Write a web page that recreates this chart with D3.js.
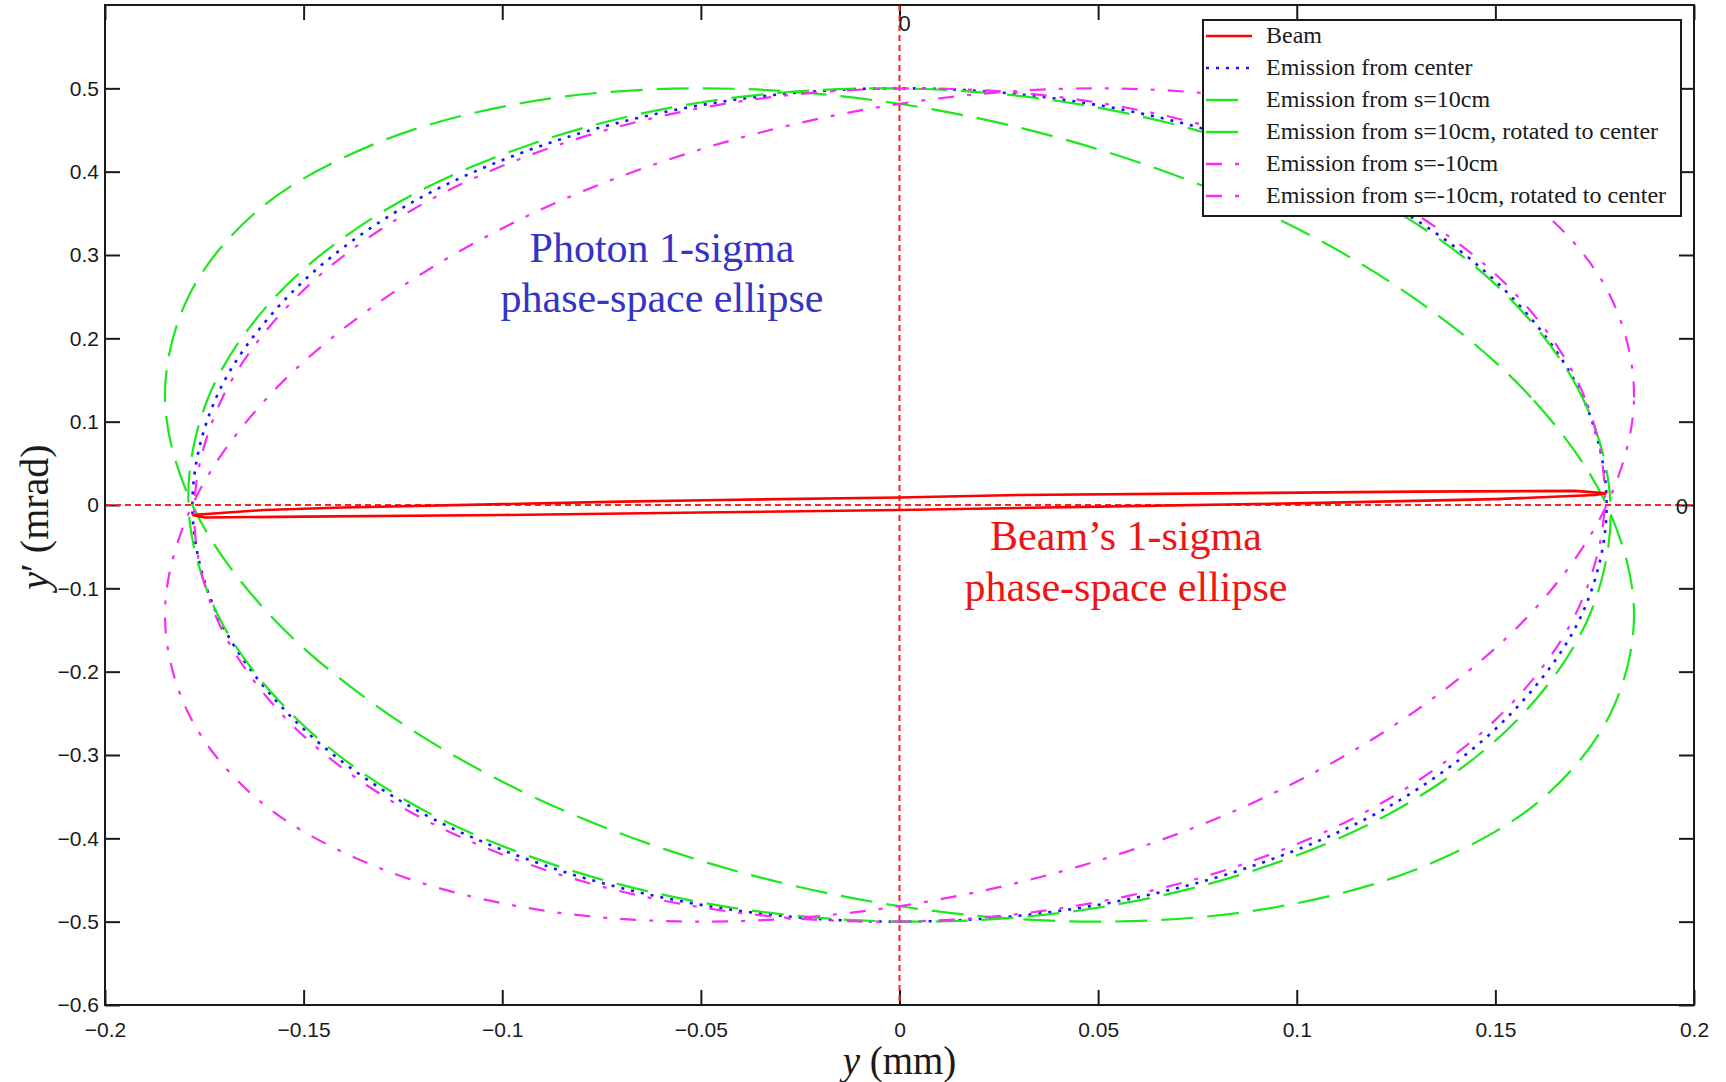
<!DOCTYPE html>
<html>
<head>
<meta charset="utf-8">
<script src="https://cdn.jsdelivr.net/npm/d3@7"></script>
<style>
  body { margin: 0; background: #fff; }
  svg { display: block; }
</style>
</head>
<body>
<div id="chart"></div>
<script>
// axis ticks
const xTicks = [-0.2, -0.15, -0.1, -0.05, 0, 0.05, 0.1, 0.15, 0.2];
const yTicks = [0.5, 0.4, 0.3, 0.2, 0.1, 0, -0.1, -0.2, -0.3, -0.4, -0.5, -0.6];

// series: [y (mm), y' (mrad)]
const beam = [
  [-0.178, -0.012], [-0.16, -0.006], [-0.14, -0.003], [-0.1, 0.001], [-0.07, 0.004],
  [-0.045, 0.006], [0, 0.009], [0.03, 0.012], [0.08, 0.014], [0.13, 0.016], [0.17, 0.017],
  [0.178, 0.014], [0.175, 0.012], [0.15, 0.007], [0.1, 0.002], [0.05, -0.002], [0, -0.006],
  [-0.05, -0.009], [-0.1, -0.012], [-0.15, -0.014], [-0.175, -0.015]
];
const emitCenter = [
  [0.178, 0], [0.172, 0.129], [0.154, 0.25], [0.126, 0.354], [0.089, 0.433], [0.046, 0.483],
  [0, 0.5], [-0.046, 0.483], [-0.089, 0.433], [-0.126, 0.354], [-0.154, 0.25], [-0.172, 0.129],
  [-0.178, 0], [-0.172, -0.129], [-0.154, -0.25], [-0.126, -0.354], [-0.089, -0.433], [-0.046, -0.483],
  [0, -0.5], [0.046, -0.483], [0.089, -0.433], [0.126, -0.354], [0.154, -0.25], [0.172, -0.129]
];
const emitS10 = [
  [0.178, 0], [0.159, 0.129], [0.129, 0.25], [0.0905, 0.354], [0.0457, 0.433], [-0.0023, 0.483],
  [-0.05, 0.5], [-0.0943, 0.483], [-0.1323, 0.433], [-0.1614, 0.354], [-0.179, 0.25], [-0.1849, 0.129],
  [-0.178, 0], [-0.1591, -0.129], [-0.129, -0.25], [-0.0905, -0.354], [-0.0457, -0.433], [0.0023, -0.483],
  [0.05, -0.5], [0.0943, -0.483], [0.1323, -0.433], [0.1614, -0.354], [0.179, -0.25], [0.1849, -0.129]
];
const emitS10Rot = [
  [0.179, 0], [0.1719, 0.129], [0.1532, 0.25], [0.1244, 0.354], [0.0862, 0.433], [0.0424, 0.483],
  [-0.004, 0.5], [-0.0502, 0.483], [-0.0927, 0.433], [-0.1294, 0.354], [-0.1571, 0.25], [-0.1740, 0.129],
  [-0.179, 0], [-0.1719, -0.129], [-0.1532, -0.25], [-0.1244, -0.354], [-0.0862, -0.433], [-0.0424, -0.483],
  [0.004, -0.5], [0.0502, -0.483], [0.0927, -0.433], [0.1294, -0.354], [0.1571, -0.25], [0.1740, -0.129]
];
const emitSm10 = [
  [0.178, 0], [0.1849, 0.129], [0.179, 0.25], [0.1614, 0.354], [0.1323, 0.433], [0.0943, 0.483],
  [0.05, 0.5], [0.0023, 0.483], [-0.0457, 0.433], [-0.0905, 0.354], [-0.129, 0.25], [-0.1591, 0.129],
  [-0.178, 0], [-0.1849, -0.129], [-0.179, -0.25], [-0.1614, -0.354], [-0.1323, -0.433], [-0.0943, -0.483],
  [-0.05, -0.5], [-0.0023, -0.483], [0.0457, -0.433], [0.0905, -0.354], [0.129, -0.25], [0.1591, -0.129]
];
const emitSm10Rot = [
  [0.1775, 0], [0.1725, 0.129], [0.1557, 0.25], [0.1283, 0.354], [0.0922, 0.433], [0.0497, 0.483],
  [0.004, 0.5], [-0.0419, 0.483], [-0.0853, 0.433], [-0.1227, 0.354], [-0.1517, 0.25], [-0.1704, 0.129],
  [-0.1775, 0], [-0.1725, -0.129], [-0.1557, -0.25], [-0.1283, -0.354], [-0.0922, -0.433], [-0.0497, -0.483],
  [-0.004, -0.5], [0.0419, -0.483], [0.0853, -0.433], [0.1227, -0.354], [0.1517, -0.25], [0.1704, -0.129]
];
const legendLabels = [
  'Beam',
  'Emission from center',
  'Emission from s=10cm',
  'Emission from s=10cm, rotated to center',
  'Emission from s=-10cm',
  'Emission from s=-10cm, rotated to center'
];

// drawing styles
const GREEN = '#1de81d', MAGENTA = '#f52ef5';
const series = [
  { data: beam,        color: '#ff0000', dash: null,          width: 2.6, curve: d3.curveLinearClosed },
  { data: emitCenter,  color: '#1414ff', dash: '3,7',         width: 2.6, curve: d3.curveCatmullRomClosed },
  { data: emitS10,     color: GREEN,     dash: '32,14',       width: 2.2, curve: d3.curveCatmullRomClosed },
  { data: emitS10Rot,  color: GREEN,     dash: '32,14',       width: 2.2, curve: d3.curveCatmullRomClosed },
  { data: emitSm10,    color: MAGENTA,   dash: '16,13,4,13',  width: 2.2, curve: d3.curveCatmullRomClosed },
  { data: emitSm10Rot, color: MAGENTA,   dash: '16,13,4,13',  width: 2.2, curve: d3.curveCatmullRomClosed }
];

const W = 1726, H = 1082;
const plot = { left: 105, right: 1694, top: 5, bottom: 1005 };
const INK = '#1a1a1a';
const tickFont = '"Liberation Sans", Arial, sans-serif';
const serif = '"Liberation Serif", "Times New Roman", serif';

const svg = d3.select('#chart').append('svg')
  .attr('width', W)
  .attr('height', H)
  .attr('viewBox', `0 0 ${W} ${H}`);

svg.append('rect').attr('width', W).attr('height', H).attr('fill', '#fff');

const x = d3.scaleLinear().domain([-0.2, 0.2]).range([plot.left, plot.right]);
const y = d3.scaleLinear().domain([-0.6, 0.6]).range([plot.bottom, plot.top]);

const fmt = d => d === 0 ? '0' : (d < 0 ? '\u2212' : '') + String(Math.abs(d));

// axes, ticks pointing inward on all four sides
function styleAxis(g) {
  g.select('.domain').remove();
  g.selectAll('.tick line').attr('stroke', INK).attr('stroke-width', 2);
  g.selectAll('.tick text')
    .attr('fill', INK)
    .style('font-family', tickFont)
    .style('font-size', '21px');
}

svg.append('g')
  .attr('transform', `translate(0,${plot.bottom})`)
  .call(d3.axisBottom(x).tickValues(xTicks).tickFormat(fmt).tickSizeInner(-15).tickSizeOuter(0).tickPadding(17))
  .call(styleAxis);

svg.append('g')
  .attr('transform', `translate(${plot.left},0)`)
  .call(d3.axisLeft(y).tickValues(yTicks).tickFormat(fmt).tickSizeInner(-15).tickSizeOuter(0).tickPadding(6))
  .call(styleAxis);

svg.append('g')
  .attr('transform', `translate(0,${plot.top})`)
  .call(d3.axisTop(x).tickValues(xTicks).tickFormat('').tickSizeInner(-15).tickSizeOuter(0))
  .call(styleAxis);

svg.append('g')
  .attr('transform', `translate(${plot.right},0)`)
  .call(d3.axisRight(y).tickValues(yTicks).tickFormat('').tickSizeInner(-15).tickSizeOuter(0))
  .call(styleAxis);

// zero markers
svg.append('line')
  .attr('x1', x(0)).attr('x2', x(0))
  .attr('y1', plot.top).attr('y2', plot.bottom)
  .attr('stroke', '#ff2020').attr('stroke-width', 2).attr('stroke-dasharray', '6,4');
svg.append('line')
  .attr('x1', plot.left).attr('x2', plot.right)
  .attr('y1', y(0)).attr('y2', y(0))
  .attr('stroke', '#ff2020').attr('stroke-width', 2).attr('stroke-dasharray', '6,4');

svg.append('text')
  .attr('x', x(0) - 1).attr('y', plot.top + 26)
  .attr('fill', INK)
  .style('font-family', tickFont).style('font-size', '22px')
  .text('0');
svg.append('text')
  .attr('x', plot.right - 6).attr('y', y(0) + 9)
  .attr('text-anchor', 'end')
  .attr('fill', INK)
  .style('font-family', tickFont).style('font-size', '22px')
  .text('0');

// curves
const line = d3.line().x(d => x(d[0])).y(d => y(d[1]));

svg.append('g')
  .selectAll('path')
  .data(series.slice(1).concat([series[0]]))
  .enter()
  .append('path')
  .attr('d', s => line.curve(s.curve)(s.data))
  .attr('fill', 'none')
  .attr('stroke', s => s.color)
  .attr('stroke-width', s => s.width)
  .attr('stroke-dasharray', s => s.dash);

// frame
svg.append('rect')
  .attr('x', plot.left).attr('y', plot.top)
  .attr('width', plot.right - plot.left).attr('height', plot.bottom - plot.top)
  .attr('fill', 'none').attr('stroke', INK).attr('stroke-width', 2);

// annotations
const photon = svg.append('text')
  .attr('text-anchor', 'middle')
  .attr('fill', '#3434c6')
  .style('font-family', serif).style('font-size', '42px');
photon.append('tspan').attr('x', 662).attr('y', 262).text('Photon 1-sigma');
photon.append('tspan').attr('x', 662).attr('y', 312).text('phase-space ellipse');

const beamNote = svg.append('text')
  .attr('text-anchor', 'middle')
  .attr('fill', '#f01414')
  .style('font-family', serif).style('font-size', '42px');
beamNote.append('tspan').attr('x', 1126).attr('y', 550).text('Beam\u2019s 1-sigma');
beamNote.append('tspan').attr('x', 1126).attr('y', 601).text('phase-space ellipse');

// axis titles
const xTitle = svg.append('text')
  .attr('x', x(0)).attr('y', 1074)
  .attr('text-anchor', 'middle')
  .attr('fill', INK)
  .style('font-family', serif).style('font-size', '39px');
xTitle.append('tspan').style('font-style', 'italic').text('y');
xTitle.append('tspan').text(' (mm)');

const yTitle = svg.append('text')
  .attr('transform', `translate(48,517) rotate(-90)`)
  .attr('text-anchor', 'middle')
  .attr('fill', INK)
  .style('font-family', serif).style('font-size', '40px');
yTitle.append('tspan').style('font-style', 'italic').text('y');
yTitle.append('tspan').text('\u2032 (mrad)');

// legend
const legend = svg.append('g').attr('transform', 'translate(1203,20)');
legend.append('rect')
  .attr('width', 478).attr('height', 196)
  .attr('fill', '#fff').attr('stroke', INK).attr('stroke-width', 2);

const rows = legend.selectAll('g.row')
  .data(series)
  .enter()
  .append('g')
  .attr('class', 'row')
  .attr('transform', (d, i) => `translate(0,${23 + i * 32})`);

rows.append('line')
  .attr('x1', 3).attr('x2', 49)
  .attr('y1', -7).attr('y2', -7)
  .attr('stroke', d => d.color)
  .attr('stroke-width', 2.4)
  .attr('stroke-dasharray', d => d.dash);

rows.append('text')
  .attr('x', 63).attr('y', 0)
  .attr('fill', INK)
  .style('font-family', serif).style('font-size', '24px')
  .text((d, i) => legendLabels[i]);
</script>
</body>
</html>
